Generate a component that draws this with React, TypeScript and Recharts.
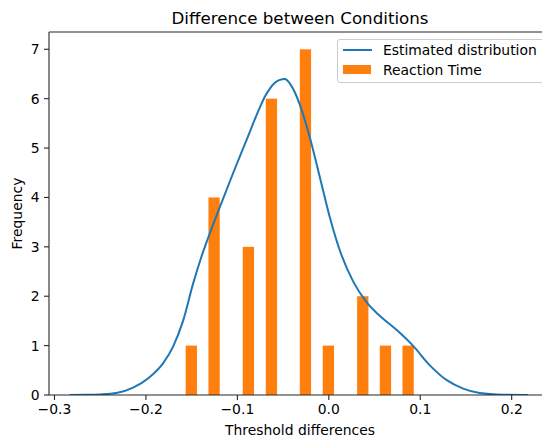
import React from 'react';
import { ComposedChart, Bar, Line, XAxis, YAxis, ReferenceLine, Legend } from 'recharts';

// Histogram of threshold differences (bar centres)
const binCenters = [-0.1503, -0.1254, -0.0879, -0.0627, -0.0255, -0.0004, 0.0372, 0.062, 0.0868];
const counts = [1, 4, 3, 6, 7, 1, 2, 1, 1];
const binWidth = 0.01235;

// Estimated distribution (KDE curve)
const kdeX = [
  -0.2834, -0.265, -0.25, -0.2323, -0.214, -0.196, -0.1813, -0.1703, -0.1594, -0.1485,
  -0.1393, -0.1302, -0.1193, -0.1047, -0.09, -0.0755, -0.07, -0.0646, -0.059, -0.0536,
  -0.048, -0.0427, -0.0372, -0.0317, -0.0208, -0.0098, 0.0011, 0.012, 0.0266, 0.0412,
  0.056, 0.074, 0.092, 0.1105, 0.129, 0.147, 0.165, 0.19, 0.218,
];
const kdeY = [
  0.0, 0.003, 0.012, 0.04, 0.15, 0.36, 0.64, 0.98, 1.5, 2.25,
  2.8, 3.27, 3.8, 4.49, 5.16, 5.82, 6.04, 6.2, 6.32, 6.38,
  6.4, 6.31, 6.13, 5.88, 5.22, 4.41, 3.6, 2.93, 2.3, 1.88,
  1.6, 1.32, 1.0, 0.6, 0.3, 0.13, 0.04, 0.006, 0.0,
];

const xTicks = [-0.3, -0.2, -0.1, 0.0, 0.1, 0.2];
const yTicks = [0, 1, 2, 3, 4, 5, 6, 7];
const xDomain = [-0.306, 0.243];
const yDomain = [0, 7.35];

const titleText = 'Difference between Conditions';
const xLabel = 'Threshold differences';
const yLabel = 'Frequency';
const kdeName = 'Estimated distribution';
const histName = 'Reaction Time';

const BLUE = '#1f77b4';
const ORANGE = '#ff7f0e';
const SPINE = '#262626';
const FONT = '"DejaVu Sans", sans-serif';

const PLOT_LEFT = 49;
const PLOT_RIGHT = 551;
const PX_PER_UNIT = (PLOT_RIGHT - PLOT_LEFT) / (xDomain[1] - xDomain[0]);
const BAR_PX = binWidth * PX_PER_UNIT;

const barData = binCenters.map((x, i) => ({ x, count: counts[i] }));
const kdeData = kdeX.map((x, i) => ({ x, kde: kdeY[i] }));

const fmt = (v: number) => {
  const s = Math.abs(v).toFixed(1);
  return v < -1e-9 ? '\u2212' + s : s;
};

// Bars keep the library's x centre and y/height, only the width is fixed to the bin width
const HistBar = (props: any) => {
  const { x, y, width, height, fill } = props;
  if (height == null || height <= 0) return null;
  const cx = x + width / 2;
  return <rect x={cx - BAR_PX / 2} y={y} width={BAR_PX} height={height} fill={fill} />;
};

const LegendBox = () => (
  <div
    style={{
      position: 'relative',
      width: 207,
      height: 44,
      border: '1px solid #cccccc',
      borderRadius: 3,
      background: 'rgba(255,255,255,0.8)',
      boxSizing: 'border-box',
      fontFamily: FONT,
      fontSize: 13.9,
      color: '#000',
      whiteSpace: 'nowrap',
    }}
  >
    <div style={{ position: 'absolute', left: 4.5, top: 8.7, width: 29, height: 2, background: BLUE }} />
    <span style={{ position: 'absolute', left: 45, top: 1.7, lineHeight: '16px' }}>{kdeName}</span>
    <div style={{ position: 'absolute', left: 5, top: 25, width: 28.4, height: 9, background: ORANGE }} />
    <span style={{ position: 'absolute', left: 45, top: 21.7, lineHeight: '16px' }}>{histName}</span>
  </div>
);

const YLabel = (props: any) => {
  const vb = props.viewBox || { x: 0, y: 32, width: 49, height: 363 };
  const x = vb.x + 21.5;
  const y = vb.y + vb.height / 2;
  return (
    <text x={x} y={y} transform={`rotate(-90 ${x} ${y})`} textAnchor="middle" fontSize={13.9} fill="#000" fontFamily={FONT}>
      {yLabel}
    </text>
  );
};

export default function App() {
  return (
    <div style={{ position: 'absolute', left: 0, top: 0, width: 542, height: 437, overflow: 'hidden', background: '#fff', fontFamily: FONT }}>
      <div
        style={{
          position: 'absolute',
          left: 0,
          top: 8.2,
          width: 600,
          textAlign: 'center',
          fontSize: 16.7,
          lineHeight: '20px',
          color: '#000',
          fontFamily: FONT,
          whiteSpace: 'nowrap',
        }}
      >
        {titleText}
      </div>
      <ComposedChart width={560} height={437} data={barData} margin={{ top: 32, right: 560 - PLOT_RIGHT, bottom: 0, left: 0 }}>
        <XAxis
          dataKey="x"
          type="number"
          domain={xDomain}
          allowDataOverflow
          ticks={xTicks}
          tickFormatter={fmt}
          interval={0}
          height={42}
          stroke={SPINE}
          strokeWidth={1.1}
          tickSize={5}
          tickMargin={4}
          tick={{ fontSize: 13.9, fill: '#000', fontFamily: FONT }}
          label={{ value: xLabel, position: 'insideBottom', offset: 2.5, fontSize: 13.9, fill: '#000', fontFamily: FONT }}
        />
        <YAxis
          type="number"
          domain={yDomain}
          allowDataOverflow
          ticks={yTicks}
          interval={0}
          width={PLOT_LEFT}
          stroke={SPINE}
          strokeWidth={1.1}
          tickSize={5}
          tickMargin={4.5}
          tick={{ fontSize: 13.9, fill: '#000', fontFamily: FONT }}
          label={<YLabel />}
        />
        <ReferenceLine y={7.35} stroke={SPINE} strokeWidth={1.1} ifOverflow="extendDomain" />
        <Bar dataKey="count" name={histName} fill={ORANGE} shape={<HistBar />} isAnimationActive={false} />
        <Line
          data={kdeData}
          dataKey="kde"
          name={kdeName}
          type="monotone"
          stroke={BLUE}
          strokeWidth={2}
          dot={false}
          activeDot={false}
          isAnimationActive={false}
        />
        <Legend
          verticalAlign="middle"
          align="center"
          layout="horizontal"
          content={<LegendBox />}
          wrapperStyle={{ position: 'absolute', left: 337, top: 39, width: 207, height: 44 }}
        />
      </ComposedChart>
    </div>
  );
}
